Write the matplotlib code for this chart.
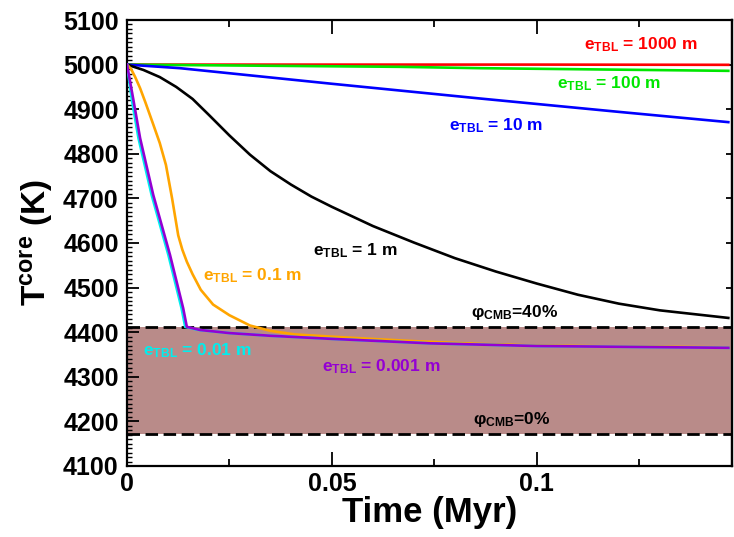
import matplotlib
matplotlib.use("Agg")
import matplotlib.pyplot as plt
from matplotlib.ticker import MultipleLocator, FixedLocator

plt.rcParams['font.family'] = ['Liberation Sans', 'DejaVu Sans']
plt.rcParams['font.weight'] = 'bold'
plt.rcParams['mathtext.fontset'] = 'custom'
plt.rcParams['mathtext.rm'] = 'Liberation Sans:bold'
plt.rcParams['mathtext.it'] = 'Liberation Sans:bold'
plt.rcParams['mathtext.bf'] = 'Liberation Sans:bold'

# ---- data (time in Myr, temperature in K) ----
t_1000 = [0, 0.05, 0.1, 0.1467]
T_1000 = [5000, 5000, 5000, 4999.5]

t_100 = [0, 0.0129, 0.0666, 0.086, 0.1467]
T_100 = [5000, 4999, 4995, 4992, 4986]

t_10 = [0, 0.0129, 0.05, 0.0861, 0.12, 0.1467]
T_10 = [5000, 4992, 4957, 4924, 4894, 4871]

t_1 = [0, 0.004, 0.008, 0.012, 0.016, 0.020, 0.025, 0.030, 0.035, 0.040,
       0.045, 0.050, 0.060, 0.070, 0.080, 0.090, 0.100, 0.110, 0.120, 0.130, 0.1467]
T_1 = [5000, 4988, 4972, 4950, 4923, 4887, 4841, 4798, 4761, 4731,
       4704, 4681, 4638, 4601, 4566, 4536, 4509, 4484, 4464, 4449, 4432]

t_01 = [0, 0.001, 0.002, 0.0032, 0.0045, 0.0064, 0.008, 0.0095, 0.011, 0.0125,
        0.0135, 0.0146, 0.016, 0.018, 0.021, 0.025, 0.030, 0.035, 0.041, 0.05,
        0.0576, 0.07, 0.085, 0.1, 0.12, 0.1467]
T_01 = [5000, 4990, 4972, 4947, 4915, 4866, 4824, 4775, 4700, 4617,
        4585, 4558, 4530, 4495, 4462, 4438, 4415, 4403, 4395, 4390,
        4386, 4380, 4374, 4370, 4368, 4366]

t_001 = [0, 0.0012, 0.0028, 0.006, 0.0101, 0.0133, 0.0142, 0.0175, 0.025,
         0.035, 0.05, 0.074, 0.1, 0.1467]
T_001 = [5000, 4920, 4835, 4708, 4573, 4454, 4412, 4405, 4398,
         4392, 4385, 4375, 4369, 4365]

t_0001 = [0, 0.0015, 0.0032, 0.0064, 0.0105, 0.0137, 0.0146, 0.0178, 0.025,
          0.035, 0.05, 0.074, 0.1, 0.1467]
T_0001 = [5000, 4924, 4835, 4708, 4573, 4454, 4412, 4405, 4398,
          4392, 4385, 4375, 4369, 4365]

phi40_T = 4412
phi0_T = 4172
x_end = 0.1476

fig = plt.figure(figsize=(7.34, 5.37), dpi=100)
ax = fig.add_axes([127/734, 71/537, 605/734, 446/537])

ax.fill_between([0, x_end], phi0_T, phi40_T, color='#b98b89', lw=0, zorder=1)
ax.plot([0, x_end], [phi40_T, phi40_T], color='black', lw=2, dashes=(4.5, 2), zorder=2)
ax.plot([0, x_end], [phi0_T, phi0_T], color='black', lw=2, dashes=(4.5, 2), zorder=2)

lw = 1.9
ax.plot(t_1000, T_1000, color='#ff0000', lw=lw, zorder=3)
ax.plot(t_100, T_100, color='#00e600', lw=lw, zorder=3)
ax.plot(t_10, T_10, color='#0000ff', lw=lw, zorder=3)
ax.plot(t_1, T_1, color='black', lw=lw, zorder=3)
ax.plot(t_01, T_01, color='#ffa500', lw=lw, zorder=3)
ax.plot(t_001, T_001, color='#00eeee', lw=lw, zorder=3)
ax.plot(t_0001, T_0001, color='#9400d3', lw=lw, zorder=3)

fs = 12.5
def lab(x, y, s, c):
    ax.text(x, y, s, color=c, fontsize=fs, fontweight='bold', ha='left', va='baseline', zorder=5)

lab(0.1115, 5034, r'$\mathrm{e}_{\mathrm{TBL}}$ = 1000 m', '#ff0000')
lab(0.1049, 4947, r'$\mathrm{e}_{\mathrm{TBL}}$ = 100 m', '#00e600')
lab(0.0785, 4853, r'$\mathrm{e}_{\mathrm{TBL}}$ = 10 m', '#0000ff')
lab(0.0454, 4573, r'$\mathrm{e}_{\mathrm{TBL}}$ = 1 m', 'black')
lab(0.0185, 4517, r'$\mathrm{e}_{\mathrm{TBL}}$ = 0.1 m', '#ffa500')
lab(0.0039, 4349, r'$\mathrm{e}_{\mathrm{TBL}}$ = 0.01 m', '#00eeee')
lab(0.0476, 4313, r'$\mathrm{e}_{\mathrm{TBL}}$ = 0.001 m', '#9400d3')
lab(0.0839, 4433, r'φ$_{\mathrm{CMB}}$=40%', 'black')
lab(0.0844, 4194, r'φ$_{\mathrm{CMB}}$=0%', 'black')

ax.set_xlim(0, x_end)
ax.set_ylim(4100, 5100)
ax.xaxis.set_major_locator(FixedLocator([0, 0.05, 0.1]))
ax.set_xticklabels(['0', '0.05', '0.1'])
ax.xaxis.set_minor_locator(FixedLocator([0.025, 0.075, 0.125]))
ax.yaxis.set_major_locator(MultipleLocator(100))
ax.yaxis.set_minor_locator(MultipleLocator(10))

for s in ax.spines.values():
    s.set_linewidth(1.6)

ax.tick_params(axis='x', which='major', direction='in', length=10, width=1.3,
               top=True, bottom=True, labelsize=18, pad=4)
ax.tick_params(axis='x', which='minor', direction='in', length=5, width=1.3,
               top=True, bottom=True)
ax.tick_params(axis='y', which='major', direction='in', length=8.5, width=1.3,
               left=True, right=False, labelsize=18, pad=6)
ax.tick_params(axis='y', which='minor', direction='in', length=3.6, width=1.0,
               left=True, right=False)
for t in ax.get_xticklabels() + ax.get_yticklabels():
    t.set_fontweight('bold')

sec = ax.secondary_yaxis('right')
sec.yaxis.set_major_locator(MultipleLocator(100))
sec.tick_params(axis='y', which='major', direction='in', length=4, width=1.3, labelright=False)
sec.tick_params(axis='y', which='minor', right=False)
sec.spines['right'].set_linewidth(1.6)

ax.set_xlabel('Time (Myr)', fontsize=25, fontweight='bold', labelpad=0)
ax.set_ylabel(r'T$^{\mathrm{core}}$ (K)', fontsize=24, fontweight='bold', labelpad=6)

fig.savefig('out.png', dpi=100)
